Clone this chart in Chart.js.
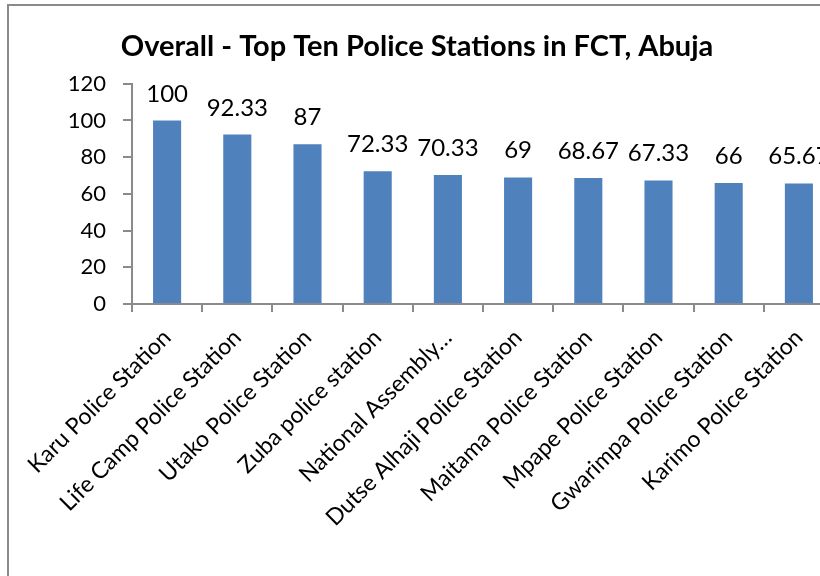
<!DOCTYPE html>
<html>
<head>
<meta charset="utf-8">
<script src="https://cdn.jsdelivr.net/npm/chart.js@4"></script>
<style>
  body { margin: 0; overflow: hidden; background: #fff; }
  #frame { position: absolute; left: 7px; top: 4px; width: 1000px; height: 1000px;
           border-left: 2px solid #8a8a8a; border-top: 2px solid #8a8a8a; }
  #wrap { position: absolute; left: 0; top: 0; width: 840px; height: 576px; }
</style>
</head>
<body>
<div id="frame"></div>
<div id="wrap"><canvas id="chart"></canvas></div>
<script>
const stations = [
    'Karu Police Station',
    'Life Camp Police Station',
    'Utako Police Station',
    'Zuba police station',
    'National Assembly…',
    'Dutse Alhaji Police Station',
    'Maitama Police Station',
    'Mpape Police Station',
    'Gwarimpa Police Station',
    'Karimo Police Station'
]
const scores = [100, 92.33, 87, 72.33, 70.33, 69, 68.67, 67.33, 66, 65.67]
const yTicks = [0, 20, 40, 60, 80, 100, 120]

const FONT = 'Lato'
const AXIS = '#8a8a8a'

// value on top of each bar
const valueLabels = {
    id: 'valueLabels',
    afterDatasetsDraw(chart) {
        const ctx = chart.ctx
        const meta = chart.getDatasetMeta(0)
        ctx.save()
        ctx.font = '24px ' + FONT
        ctx.fillStyle = '#000'
        ctx.textAlign = 'center'
        ctx.textBaseline = 'alphabetic'
        meta.data.forEach((bar, i) => {
            ctx.fillText(String(scores[i]), bar.x, bar.y - 19)
        })
        ctx.restore()
    }
}

new Chart(document.getElementById('chart'), {
    type: 'bar',
    data: {
        labels: stations,
        datasets: [{
            data: scores,
            backgroundColor: '#4f81bd',
            barPercentage: 0.4,
            categoryPercentage: 1
        }]
    },
    options: {
        responsive: true,
        maintainAspectRatio: false,
        animation: false,
        layout: { padding: { top: 29, left: 0, right: 6, bottom: 0 } },
        plugins: {
            legend: { display: false },
            tooltip: { enabled: false },
            title: {
                display: true,
                text: 'Overall - Top Ten Police Stations in FCT, Abuja',
                color: '#000',
                font: { family: FONT, size: 29, weight: 'bold' },
                padding: { top: 0, bottom: 20 }
            }
        },
        scales: {
            x: {
                grid: { display: true, drawOnChartArea: false, color: AXIS, lineWidth: 2, tickLength: 8, offset: true },
                border: { color: AXIS, width: 2 },
                ticks: {
                    color: '#000',
                    font: { family: FONT, size: 23 },
                    minRotation: 45,
                    maxRotation: 45,
                    autoSkip: false,
                    padding: 12
                },
                afterFit(scale) { scale.height = 272 }
            },
            y: {
                min: 0,
                max: 120,
                afterBuildTicks(scale) { scale.ticks = yTicks.map(v => ({ value: v })) },
                grid: { display: true, drawOnChartArea: false, color: AXIS, lineWidth: 2, tickLength: 9 },
                border: { color: AXIS, width: 2 },
                ticks: {
                    color: '#000',
                    font: { family: FONT, size: 22 },
                    padding: 17
                },
                afterFit(scale) { scale.width = 132 }
            }
        }
    },
    plugins: [valueLabels]
})
</script>
</body>
</html>
